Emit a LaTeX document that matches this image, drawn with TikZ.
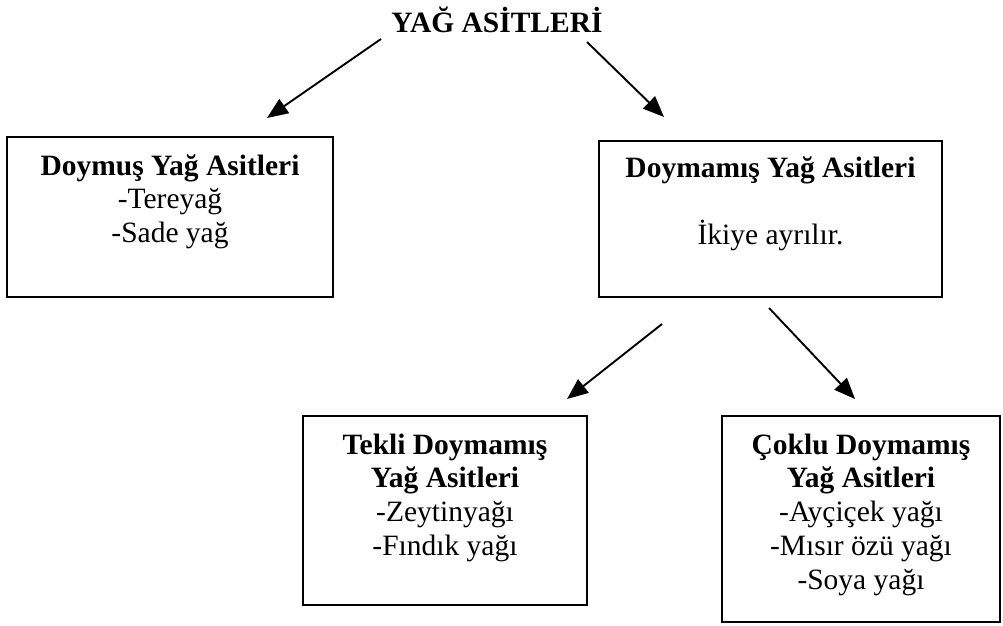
\documentclass[tikz,border=0pt]{standalone}
\usepackage{fontspec}
\setmainfont{Liberation Serif}
\usetikzlibrary{arrows.meta}
\newcommand\bxtext[4]{\begin{minipage}[t][#2][t]{#1}\centering\rule{0pt}{#3}#4\end{minipage}}
\begin{document}
\begin{tikzpicture}[x=1pt,y=-1pt,
  box/.style={draw, line width=1.8pt, inner sep=0pt, outer sep=0pt, anchor=north west},
  arr/.style={line width=1.9pt, -{Triangle[length=21pt,width=17pt]}},
  every node/.style={font=\fontsize{29.5}{33.8}\selectfont}]
\useasboundingbox (0,0) rectangle (1003,625);
\node[anchor=base, inner sep=0pt] (title) at (497,32) {\textbf{YAĞ ASİTLERİ}};
\node[box] (b1) at (7,137) {\bxtext{326pt}{160pt}{38pt}{\textbf{Doymuş Yağ Asitleri}\\-Tereyağ\\-Sade yağ}};
\node[box] (b2) at (599,141) {\bxtext{343pt}{156pt}{36pt}{\textbf{Doymamış Yağ Asitleri}\\[33.8pt]İkiye ayrılır.}};
\node[box] (b3) at (303,416) {\bxtext{284pt}{189pt}{38pt}{\textbf{Tekli Doymamış}\\\textbf{Yağ Asitleri}\\-Zeytinyağı\\-Fındık yağı}};
\node[box] (b4) at (722,416) {\bxtext{278pt}{206pt}{38pt}{\textbf{Çoklu Doymamış}\\\textbf{Yağ Asitleri}\\-Ayçiçek yağı\\-Mısır özü yağı\\-Soya yağı}};
\coordinate (a1s) at (381,39);
\coordinate (a1e) at (267,118);
\coordinate (a2s) at (587,42);
\coordinate (a2e) at (664,117);
\coordinate (a3s) at (662,324);
\coordinate (a3e) at (567,399);
\coordinate (a4s) at (769,308);
\coordinate (a4e) at (855,399);
\draw[arr] (a1s) -- (a1e);
\draw[arr] (a2s) -- (a2e);
\draw[arr] (a3s) -- (a3e);
\draw[arr] (a4s) -- (a4e);
\end{tikzpicture}
\end{document}
